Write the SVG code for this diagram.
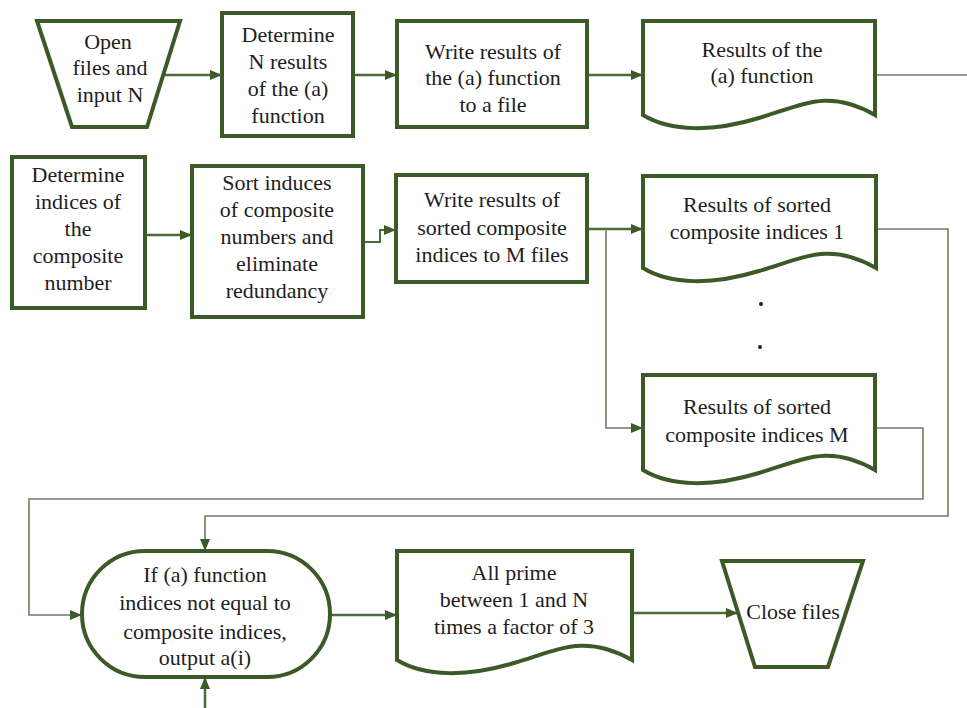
<svg xmlns="http://www.w3.org/2000/svg" width="967" height="708" viewBox="0 0 967 708">
<defs>
<style>
.n{fill:#ffffff;stroke:#3b5a27;stroke-width:4;stroke-linejoin:miter}
.t{font-size:22px;fill:#1e1e1e;text-anchor:middle}
.a{fill:none;stroke:#4b6b38;stroke-width:2.5}
.l{fill:none;stroke:#6d7d62;stroke-width:1.6}
</style>
<marker id="ah" viewBox="0 0 12 10" refX="12" refY="5" markerWidth="12" markerHeight="10" markerUnits="userSpaceOnUse" orient="auto">
<path d="M0,0 L12,5 L0,10 z" fill="#3b5a27"/>
</marker>
</defs>
<rect width="967" height="708" fill="#ffffff"/>

<g id="connectors">
<path class="a" d="M163,75 H222" marker-end="url(#ah)"/>
<path class="a" d="M353,75 H397" marker-end="url(#ah)"/>
<path class="a" d="M587,75 H643" marker-end="url(#ah)"/>
<path class="l" d="M875,75 H967"/>
<path class="a" d="M145,235 H192" marker-end="url(#ah)"/>
<path class="a" style="stroke-width:2" d="M363,242 H380 V230 H396" marker-end="url(#ah)"/>
<path class="a" d="M587,229 H643" marker-end="url(#ah)"/>
<path class="l" d="M606,229 V428 H643" marker-end="url(#ah)"/>
<path class="l" d="M876,229 H948 V516 H205 V551" marker-end="url(#ah)"/>
<path class="l" d="M875,428 H923 V499 H29 V615 H82" marker-end="url(#ah)"/>
<path class="a" d="M330,615 H397" marker-end="url(#ah)"/>
<path class="a" d="M632,613 H738" marker-end="url(#ah)"/>
<path class="a" d="M205,708 V677" marker-end="url(#ah)"/>
</g>

<g font-family="Liberation Serif, DejaVu Serif, serif">
<g id="open-files">
<path class="n" d="M37,21 H180 L147,127 H72 Z"/>
<text class="t" x="108" y="49">Open</text>
<text class="t" x="110" y="75">files and</text>
<text class="t" x="110" y="102">input N</text>
</g>

<g id="determine-n">
<rect class="n" x="222" y="13" width="131" height="123"/>
<text class="t" x="288" y="42">Determine</text>
<text class="t" x="288" y="69">N results</text>
<text class="t" x="288" y="96">of the (a)</text>
<text class="t" x="288" y="123">function</text>
</g>

<g id="write-a">
<rect class="n" x="397" y="21" width="190" height="106"/>
<text class="t" x="493" y="59">Write results of</text>
<text class="t" x="493" y="85">the (a) function</text>
<text class="t" x="493" y="112">to a file</text>
</g>

<g id="results-a">
<path class="n" d="M643,115 V21 H875 V115 C829,89 805,104 759,118 C713,132 671,132 643,115 Z"/>
<text class="t" x="762" y="57">Results of the</text>
<text class="t" x="762" y="83">(a) function</text>
</g>

<g id="determine-indices">
<rect class="n" x="12" y="157" width="133" height="151"/>
<text class="t" x="78" y="182">Determine</text>
<text class="t" x="78" y="209">indices of</text>
<text class="t" x="78" y="236">the</text>
<text class="t" x="78" y="263">composite</text>
<text class="t" x="78" y="290">number</text>
</g>

<g id="sort">
<rect class="n" x="192" y="166" width="171" height="151"/>
<text class="t" x="277" y="190">Sort induces</text>
<text class="t" x="277" y="217">of composite</text>
<text class="t" x="277" y="244">numbers and</text>
<text class="t" x="277" y="271">eliminate</text>
<text class="t" x="277" y="298">redundancy</text>
</g>

<g id="write-sorted">
<rect class="n" x="396" y="175" width="191" height="107"/>
<text class="t" x="492" y="207">Write results of</text>
<text class="t" x="492" y="235">sorted composite</text>
<text class="t" x="492" y="262">indices to M files</text>
</g>

<g id="results-1">
<path class="n" d="M643,268 V176 H876 V268 C830,242 806,257 759,271 C713,285 671,285 643,268 Z"/>
<text class="t" x="757" y="212">Results of sorted</text>
<text class="t" x="757" y="239">composite indices 1</text>
</g>

<g id="dots">
<circle cx="761" cy="304" r="2" fill="#222"/>
<circle cx="760" cy="347" r="2" fill="#222"/>
</g>

<g id="results-m">
<path class="n" d="M643,470 V375 H875 V470 C829,444 805,459 759,473 C713,487 671,487 643,470 Z"/>
<text class="t" x="757" y="414">Results of sorted</text>
<text class="t" x="757" y="442">composite indices M</text>
</g>

<g id="compare">
<rect class="n" x="82" y="551" width="248" height="126" rx="63" ry="63"/>
<text class="t" x="205" y="582">If (a) function</text>
<text class="t" x="205" y="610">indices not equal to</text>
<text class="t" x="205" y="639">composite indices,</text>
<text class="t" x="205" y="665">output a(i)</text>
</g>

<g id="all-prime">
<path class="n" d="M397,660 V551 H632 V660 C585,634 561,649 514,663 C468,677 425,677 397,660 Z"/>
<text class="t" x="514" y="580">All prime</text>
<text class="t" x="514" y="607">between 1 and N</text>
<text class="t" x="514" y="634">times a factor of 3</text>
</g>

<g id="close-files">
<path class="n" d="M722,561 H863 L828,667 H755 Z"/>
<text class="t" x="793" y="619">Close files</text>
</g>
</g>
</svg>
